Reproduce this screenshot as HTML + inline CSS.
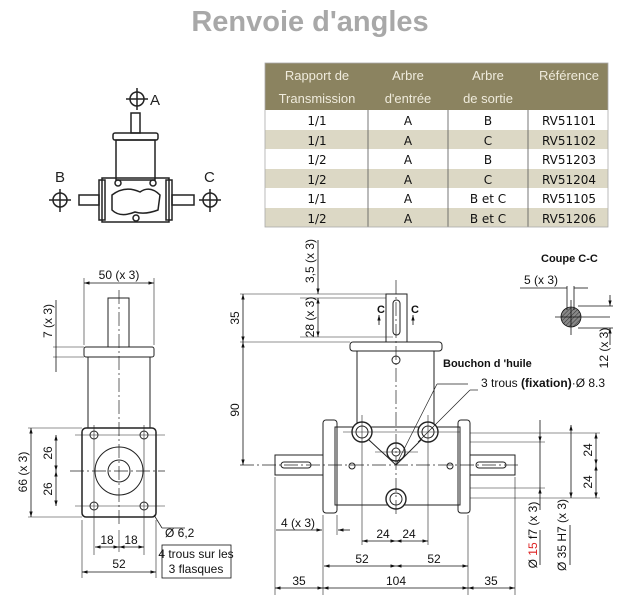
<!DOCTYPE html>
<html><head><meta charset="utf-8"><style>
html,body{margin:0;padding:0;background:#fff;width:621px;height:610px;overflow:hidden}
svg{display:block}
.t{font-family:"Liberation Sans",sans-serif;font-size:12px;fill:#111}
.tb{font-family:"Liberation Sans",sans-serif;font-size:11px;font-weight:bold;fill:#111}
.th{font-family:"Liberation Sans",sans-serif;font-size:13px;fill:#efebdc}
.td{font-family:"DejaVu Sans",sans-serif;font-size:12px;fill:#111}
</style></head><body>
<svg width="621" height="610" viewBox="0 0 621 610" xmlns="http://www.w3.org/2000/svg">
<defs>
<marker id="a" viewBox="0 0 10 10" refX="10" refY="5" markerWidth="7" markerHeight="7" orient="auto-start-reverse"><path d="M0,2 L10,5 L0,8 z" fill="#111"/></marker>
<pattern id="h" width="3" height="3" patternUnits="userSpaceOnUse" patternTransform="rotate(45)"><rect width="3" height="3" fill="#888"/><line x1="0" y1="0" x2="0" y2="3" stroke="#333" stroke-width="1"/></pattern>
</defs>
<text x="310" y="31" text-anchor="middle" font-family="Liberation Sans,sans-serif" font-weight="bold" font-size="29" fill="#a8a8a8">Renvoie d'angles</text>

<!-- table -->
<rect x="265" y="63" width="343" height="47" fill="#8b8360"/>
<rect x="265" y="110" width="343" height="117" fill="#fff"/>
<rect x="265" y="130" width="343" height="19" fill="#dcd8c5"/>
<rect x="265" y="169" width="343" height="19" fill="#dcd8c5"/>
<rect x="265" y="208" width="343" height="19" fill="#dcd8c5"/>
<g stroke="#555" stroke-width="0.8"><line x1="368" y1="110" x2="368" y2="227"/><line x1="448" y1="110" x2="448" y2="227"/><line x1="528" y1="110" x2="528" y2="227"/><rect x="265" y="63" width="343" height="164" fill="none" stroke="#aaa"/></g>
<g class="th" text-anchor="middle"><text x="317" y="80">Rapport  de</text><text x="317" y="103">Transmission</text><text x="408" y="80">Arbre</text><text x="408" y="103">d'entrée</text><text x="488" y="80">Arbre</text><text x="488" y="103">de  sortie</text><text x="569" y="80">Référence</text></g>
<g class="td" text-anchor="middle">
<text x="317" y="125">1/1</text><text x="408" y="125">A</text><text x="488" y="125">B</text><text x="569" y="125">RV51101</text>
<text x="317" y="145">1/1</text><text x="408" y="145">A</text><text x="488" y="145">C</text><text x="569" y="145">RV51102</text>
<text x="317" y="164">1/2</text><text x="408" y="164">A</text><text x="488" y="164">B</text><text x="569" y="164">RV51203</text>
<text x="317" y="184">1/2</text><text x="408" y="184">A</text><text x="488" y="184">C</text><text x="569" y="184">RV51204</text>
<text x="317" y="203">1/1</text><text x="408" y="203">A</text><text x="488" y="203">B et C</text><text x="569" y="203">RV51105</text>
<text x="317" y="223">1/2</text><text x="408" y="223">A</text><text x="488" y="223">B et C</text><text x="569" y="223">RV51206</text>
</g>

<!-- small schematic -->
<g stroke="#222" stroke-width="1.5" fill="none">
<rect x="131" y="113" width="9" height="20"/>
<rect x="113" y="133" width="45" height="7" rx="2"/>
<rect x="116" y="140" width="39" height="40"/>
<rect x="102" y="178" width="67" height="44"/>
<rect x="99" y="180" width="6" height="40"/><rect x="166" y="180" width="6" height="40"/>
<rect x="79" y="195" width="20" height="10"/><rect x="172" y="195" width="22" height="10"/>
<circle cx="118" cy="183" r="3"/><circle cx="153" cy="183" r="3"/><circle cx="136" cy="218" r="3"/>
<path d="M112,195 Q125,185 140,192 Q150,185 160,195 L158,210 Q145,215 135,212 Q120,218 112,210 z"/>
<circle cx="137" cy="99" r="7"/><line x1="137" y1="88" x2="137" y2="110"/><line x1="126" y1="99" x2="148" y2="99"/>
<circle cx="60" cy="200" r="7"/><line x1="60" y1="189" x2="60" y2="212"/><line x1="49" y1="200" x2="71" y2="200"/>
<circle cx="210" cy="200" r="7"/><line x1="210" y1="189" x2="210" y2="212"/><line x1="199" y1="200" x2="221" y2="200"/>
</g>
<text x="150" y="105" font-family="Liberation Sans" font-size="15" fill="#222">A</text>
<text x="55" y="182" font-family="Liberation Sans" font-size="15" fill="#222">B</text>
<text x="204" y="182" font-family="Liberation Sans" font-size="15" fill="#222">C</text>

<!-- left view -->
<g stroke="#222" stroke-width="1" fill="none">
<rect x="108" y="298" width="21" height="49"/>
<rect x="84" y="347" width="70" height="10" rx="2"/>
<line x1="88" y1="357" x2="88" y2="428"/><line x1="150" y1="357" x2="150" y2="428"/>
<rect x="82" y="428" width="74" height="89" rx="4" stroke-width="1.5"/>
<circle cx="94" cy="435" r="4"/><circle cx="144" cy="435" r="4"/><circle cx="94" cy="506" r="4"/><circle cx="144" cy="506" r="4"/>
<circle cx="119" cy="471" r="24"/><circle cx="119" cy="471" r="11"/>
<line x1="119" y1="290" x2="119" y2="525" stroke-dasharray="14,3,2,3" stroke-width="0.7"/>
<line x1="70" y1="471" x2="165" y2="471" stroke-dasharray="14,3,2,3" stroke-width="0.7"/>
<line x1="75" y1="435" x2="165" y2="435" stroke-width="0.6"/><line x1="75" y1="506" x2="165" y2="506" stroke-width="0.6"/>
<line x1="94" y1="425" x2="94" y2="555" stroke-width="0.6"/><line x1="144" y1="425" x2="144" y2="555" stroke-width="0.6"/>
<line x1="84" y1="278" x2="84" y2="345" stroke-width="0.6"/><line x1="154" y1="278" x2="154" y2="345" stroke-width="0.6"/>
<line x1="82" y1="520" x2="82" y2="578" stroke-width="0.6"/><line x1="156" y1="520" x2="156" y2="578" stroke-width="0.6"/>
<line x1="28" y1="428" x2="82" y2="428" stroke-width="0.6"/><line x1="28" y1="517" x2="82" y2="517" stroke-width="0.6"/>
<line x1="53" y1="347" x2="84" y2="347" stroke-width="0.6"/><line x1="53" y1="357" x2="84" y2="357" stroke-width="0.6"/>
<line x1="119" y1="530" x2="119" y2="552" stroke-width="0.6"/>
<line x1="154" y1="515" x2="162" y2="528" stroke-width="0.8"/><line x1="162" y1="528" x2="185" y2="528" stroke-width="0.8"/>
</g>
<g stroke="#111" stroke-width="0.8" marker-start="url(#a)" marker-end="url(#a)">
<line x1="84" y1="283" x2="154" y2="283"/>
<line x1="31" y1="428" x2="31" y2="517"/>
<line x1="56" y1="435" x2="56" y2="471"/><line x1="56" y1="471" x2="56" y2="506"/>
<line x1="95" y1="547" x2="119" y2="547"/><line x1="119" y1="547" x2="144" y2="547"/>
<line x1="82" y1="572" x2="156" y2="572"/>
</g>
<g stroke="#111" stroke-width="0.8"><line x1="56" y1="300" x2="56" y2="372"/></g>
<g class="t" text-anchor="middle">
<text x="119" y="279">50 (x 3)</text>
<text transform="translate(52,321) rotate(-90)">7 (x 3)</text>
<text transform="translate(27,472) rotate(-90)">66 (x 3)</text>
<text transform="translate(52,453) rotate(-90)">26</text>
<text transform="translate(52,489) rotate(-90)">26</text>
<text x="107" y="544">18</text><text x="131" y="544">18</text>
<text x="119" y="568">52</text>
</g>
<text class="t" x="165" y="537">Ø 6,2</text>
<rect x="162" y="545" width="69" height="33" fill="#fff" stroke="#111" stroke-width="0.8"/>
<text class="t" x="196" y="558" text-anchor="middle" font-size="10.5">4 trous sur les</text>
<text class="t" x="196" y="573" text-anchor="middle" font-size="10.5">3 flasques</text>

<!-- front view -->
<g stroke="#222" stroke-width="1" fill="none">
<rect x="386" y="294" width="21" height="48"/>
<rect x="393" y="300" width="7" height="35" rx="3.5"/>
<rect x="350" y="342" width="92" height="9" rx="3"/>
<line x1="357" y1="351" x2="357" y2="430"/><line x1="434" y1="351" x2="434" y2="430"/>
<rect x="335" y="427" width="125" height="78"/>
<rect x="323" y="420" width="14" height="93" rx="3"/><rect x="458" y="420" width="12" height="93" rx="3"/>
<rect x="275" y="455" width="48" height="20"/><rect x="470" y="455" width="45" height="20"/>
<rect x="281" y="462" width="30" height="6" rx="3"/><rect x="476" y="462" width="30" height="6" rx="3"/>
<circle cx="362" cy="432" r="10" fill="#fff" stroke-width="1.4"/><circle cx="362" cy="432" r="6"/>
<circle cx="428" cy="432" r="10" fill="#fff" stroke-width="1.4"/><circle cx="428" cy="432" r="6"/>
<circle cx="396" cy="452" r="9" fill="#fff" stroke-width="1.4"/><circle cx="396" cy="452" r="4"/>
<circle cx="396" cy="499" r="10" fill="#fff" stroke-width="1.4"/><circle cx="396" cy="499" r="6"/>
<circle cx="352" cy="466" r="3"/><circle cx="450" cy="466" r="3"/>
<circle cx="396" cy="360" r="4"/>
<line x1="369" y1="440" x2="396" y2="465"/><line x1="421" y1="440" x2="396" y2="465"/>
<line x1="396" y1="280" x2="396" y2="515" stroke-dasharray="14,3,2,3" stroke-width="0.7"/>
<line x1="240" y1="465" x2="520" y2="465" stroke-dasharray="14,3,2,3" stroke-width="0.7"/>
<line x1="362" y1="415" x2="362" y2="545" stroke-width="0.6"/><line x1="428" y1="415" x2="428" y2="545" stroke-width="0.6"/>
<line x1="343" y1="432" x2="460" y2="432" stroke-width="0.6"/><line x1="375" y1="452" x2="418" y2="452" stroke-width="0.6"/>
<line x1="240" y1="294" x2="386" y2="294" stroke-width="0.6"/><line x1="240" y1="342" x2="350" y2="342" stroke-width="0.6"/>
<line x1="300" y1="298" x2="386" y2="298" stroke-width="0.6"/><line x1="300" y1="337" x2="393" y2="337" stroke-width="0.6"/>
<line x1="323" y1="515" x2="323" y2="595" stroke-width="0.6"/><line x1="468" y1="515" x2="468" y2="595" stroke-width="0.6"/>
<line x1="275" y1="477" x2="275" y2="595" stroke-width="0.6"/><line x1="515" y1="477" x2="515" y2="595" stroke-width="0.6"/>
<line x1="337" y1="515" x2="337" y2="535" stroke-width="0.6"/>
<line x1="470" y1="433" x2="600" y2="433" stroke-width="0.6"/><line x1="470" y1="498" x2="600" y2="498" stroke-width="0.6"/>
<line x1="470" y1="442" x2="545" y2="442" stroke-width="0.6"/><line x1="470" y1="488" x2="545" y2="488" stroke-width="0.6"/>
<line x1="396" y1="465" x2="437" y2="384" stroke-width="0.7"/><line x1="437" y1="384" x2="468" y2="384" stroke-width="0.7"/>
<line x1="418" y1="442" x2="470" y2="390" stroke-width="0.7"/><line x1="470" y1="390" x2="478" y2="390" stroke-width="0.7"/>
</g>
<g stroke="#111" stroke-width="0.8" marker-start="url(#a)" marker-end="url(#a)">
<line x1="243" y1="294" x2="243" y2="342"/><line x1="243" y1="342" x2="243" y2="465"/>
<line x1="318" y1="298" x2="318" y2="337"/>
<line x1="362" y1="541" x2="396" y2="541"/><line x1="396" y1="541" x2="428" y2="541"/>
<line x1="324" y1="566" x2="396" y2="566"/><line x1="396" y1="566" x2="468" y2="566"/>
<line x1="275" y1="588" x2="323" y2="588"/><line x1="323" y1="588" x2="468" y2="588"/><line x1="468" y1="588" x2="515" y2="588"/>
<line x1="596" y1="433" x2="596" y2="465"/><line x1="596" y1="465" x2="596" y2="498"/>
<line x1="571" y1="425" x2="571" y2="498"/>
</g>
<g stroke="#111" stroke-width="0.8"><line x1="318" y1="240" x2="318" y2="294" marker-end="url(#a)"/>
<line x1="276" y1="530" x2="322" y2="530" marker-end="url(#a)"/><line x1="350" y1="530" x2="338" y2="530" marker-end="url(#a)"/>
<line x1="540" y1="420" x2="540" y2="442" marker-end="url(#a)"/><line x1="540" y1="510" x2="540" y2="488" marker-end="url(#a)"/><line x1="540" y1="442" x2="540" y2="488"/>
<line x1="379" y1="325" x2="379" y2="315" marker-end="url(#a)"/><line x1="413" y1="325" x2="413" y2="315" marker-end="url(#a)"/>
<line x1="540" y1="530" x2="540" y2="565"/><line x1="570" y1="525" x2="570" y2="565"/>
</g>
<g class="t" text-anchor="middle">
<text transform="translate(239,318) rotate(-90)">35</text>
<text transform="translate(239,410) rotate(-90)">90</text>
<text transform="translate(314,261) rotate(-90)">3,5 (x 3)</text>
<text transform="translate(314,317) rotate(-90)">28 (x 3)</text>
<text x="298" y="527">4 (x 3)</text>
<text x="383" y="538">24</text><text x="409" y="538">24</text>
<text x="362" y="563">52</text><text x="434" y="563">52</text>
<text x="299" y="585">35</text><text x="396" y="585">104</text><text x="491" y="585">35</text>
<text transform="translate(592,450) rotate(-90)">24</text>
<text transform="translate(592,482) rotate(-90)">24</text>
<text transform="translate(566,535) rotate(-90)">Ø 35 H7 (x 3)</text>
<text transform="translate(537,535) rotate(-90)">Ø <tspan fill="#d22">15</tspan> f7 (x 3)</text>
<text transform="translate(608,348) rotate(-90)">12 (x 3)</text>
</g>
<text class="tb" x="377" y="313">C</text><text class="tb" x="411" y="313">C</text>
<text class="tb" x="443" y="367">Bouchon d 'huile</text>
<text class="t" x="481" y="387" font-size="12">3 trous  <tspan font-weight="bold">(fixation)</tspan>·Ø 8.3</text>
<text class="tb" x="541" y="262">Coupe C-C</text>
<text class="t" x="524" y="284">5 (x 3)</text>
<g stroke="#111" stroke-width="0.8" fill="none">
<circle cx="571" cy="317" r="10" fill="url(#h)"/>
<line x1="571" y1="300" x2="571" y2="335"/><line x1="555" y1="317" x2="610" y2="317"/>
<line x1="567" y1="286" x2="567" y2="310"/><line x1="574" y1="286" x2="574" y2="310"/>
<line x1="520" y1="288" x2="567" y2="288"/><line x1="574" y1="288" x2="588" y2="288"/>
<line x1="578" y1="306" x2="613" y2="306"/><line x1="578" y1="328" x2="613" y2="328"/>
<line x1="610" y1="295" x2="610" y2="306" marker-end="url(#a)"/><line x1="610" y1="345" x2="610" y2="328" marker-end="url(#a)"/>
</g>
</svg>
</body></html>
